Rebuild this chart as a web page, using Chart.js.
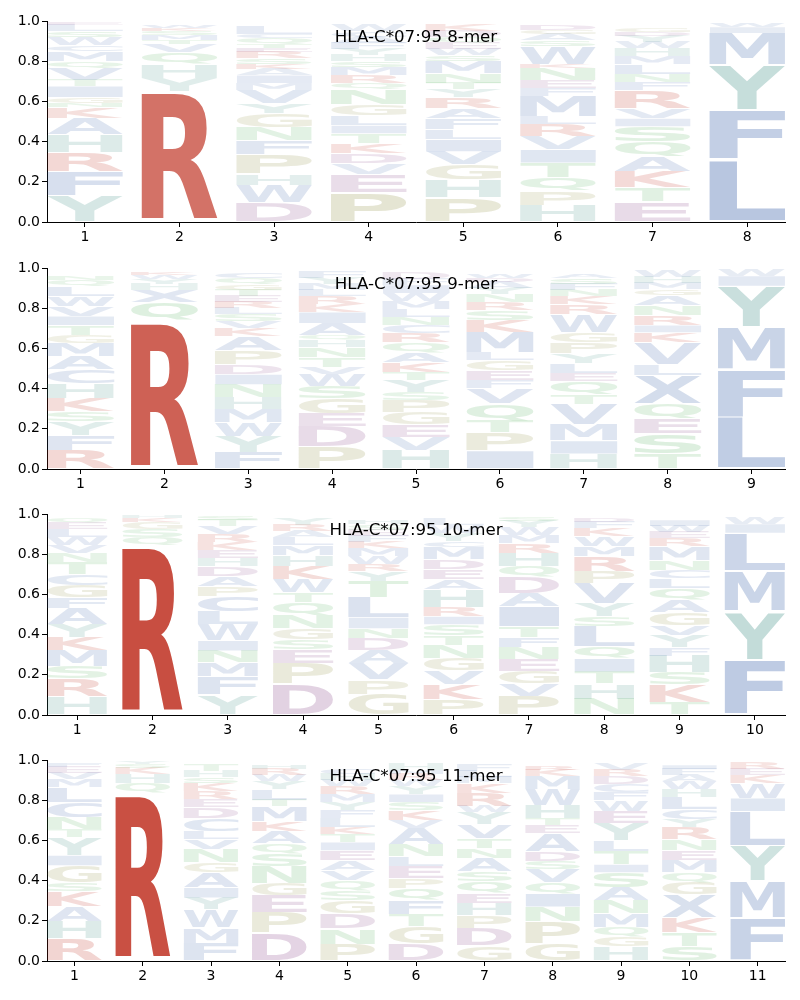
<!DOCTYPE html>
<html>
<head>
<meta charset="utf-8">
<script src="https://cdn.jsdelivr.net/npm/chart.js@4.4.0/dist/chart.umd.min.js"></script>
<style>
  body { margin: 0; background: #fff; }
  .panel { position: absolute; left: 0; width: 800px; height: 250px; }
</style>
</head>
<body>
<div class="panel" style="top:0px"><canvas id="c8" width="800" height="250"></canvas></div>
<div class="panel" style="top:247px"><canvas id="c9" width="800" height="250"></canvas></div>
<div class="panel" style="top:493px"><canvas id="c10" width="800" height="250"></canvas></div>
<div class="panel" style="top:739px"><canvas id="c11" width="800" height="250"></canvas></div>
<script>
// letter heights per position, bottom -> top
const mer8 = [
  [['Y',.13],['F',.12],['R',.095],['H',.09],['A',.08],['K',.055],['N',.02],['G',.03],['I',.055],['T',.03],['V',.06],['Q',.035],['M',.05],['C',.03],['W',.04],['S',.03],['L',.03],['E',.015]],
  [['R',.65],['Y',.065],['H',.07],['Q',.06],['V',.04],['T',.02],['M',.025],['S',.02],['K',.015],['W',.015]],
  [['D',.095],['W',.09],['H',.055],['P',.095],['F',.07],['N',.065],['G',.07],['Y',.05],['V',.065],['M',.035],['I',.04],['A',.03],['K',.025],['S',.03],['R',.03],['E',.02],['T',.02],['Q',.03],['C',.02],['L',.04]],
  [['P',.145],['E',.09],['V',.055],['D',.05],['K',.05],['T',.05],['I',.04],['L',.05],['G',.055],['N',.075],['Q',.03],['R',.04],['M',.04],['S',.03],['H',.03],['Y',.03],['F',.03],['A',.03],['C',.03],['W',.03]],
  [['P',.12],['H',.09],['G',.075],['V',.065],['I',.06],['L',.05],['F',.055],['A',.05],['R',.055],['Y',.04],['T',.03],['N',.05],['M',.06],['S',.03],['W',.03],['E',.03],['Q',.03],['D',.03],['K',.03]],
  [['H',.085],['P',.07],['Q',.065],['T',.075],['I',.065],['V',.065],['R',.06],['L',.04],['M',.1],['F',.04],['E',.04],['N',.06],['K',.02],['W',.09],['S',.03],['A',.03],['G',.02],['D',.025]],
  [['E',.1],['T',.07],['K',.08],['A',.075],['Q',.075],['S',.075],['I',.04],['V',.05],['R',.09],['F',.04],['N',.04],['L',.05],['M',.04],['H',.04],['W',.03],['Y',.03],['D',.02],['G',.02]],
  [['L',.31],['F',.245],['Y',.225],['M',.16],['I',.03],['W',.02]]
];
const mer9 = [
  [['R',.095],['F',.075],['Y',.065],['S',.05],['K',.065],['H',.075],['C',.07],['A',.065],['M',.065],['G',.04],['T',.05],['I',.045],['V',.05],['W',.05],['L',.05],['Q',.03],['N',.02]],
  [['R',.74],['Q',.09],['X',.06],['H',.03],['Y',.025],['W',.02],['K',.015]],
  [['F',.085],['Y',.08],['W',.065],['M',.065],['H',.06],['N',.065],['I',.05],['D',.05],['P',.07],['A',.07],['K',.04],['V',.035],['S',.035],['L',.03],['R',.03],['E',.03],['T',.03],['G',.03],['Q',.03],['C',.03]],
  [['P',.11],['D',.1],['E',.065],['G',.075],['S',.06],['W',.06],['V',.035],['T',.05],['N',.05],['H',.035],['Q',.025],['A',.06],['I',.055],['K',.04],['R',.04],['L',.03],['M',.03],['Y',.03],['F',.03]],
  [['H',.095],['V',.065],['E',.06],['G',.06],['P',.06],['S',.04],['Y',.06],['T',.04],['K',.05],['A',.05],['Q',.05],['R',.045],['C',.04],['N',.04],['L',.04],['M',.04],['W',.04],['I',.04],['F',.03],['D',.03]],
  [['I',.09],['P',.09],['T',.06],['Q',.085],['V',.075],['F',.04],['E',.05],['G',.05],['L',.04],['M',.1],['K',.06],['S',.05],['R',.04],['N',.04],['Y',.03],['A',.03],['D',.02],['W',.02]],
  [['H',.075],['I',.065],['M',.08],['V',.1],['T',.05],['Q',.065],['E',.04],['L',.05],['Y',.05],['P',.055],['G',.05],['W',.09],['R',.05],['K',.04],['N',.03],['F',.03],['S',.03],['A',.02]],
  [['T',.075],['S',.1],['E',.075],['Q',.075],['X',.14],['L',.055],['V',.11],['K',.05],['I',.035],['R',.05],['N',.05],['A',.05],['G',.03],['M',.03],['H',.03],['W',.03]],
  [['L',.26],['F',.235],['M',.21],['Y',.205],['I',.05],['W',.03]]
];
const mer10 = [
  [['H',.09],['R',.09],['S',.06],['M',.08],['K',.065],['Y',.065],['A',.08],['F',.055],['G',.06],['C',.055],['T',.06],['N',.045],['V',.04],['W',.04],['L',.04],['E',.03],['Q',.02]],
  [['R',.84],['Q',.045],['S',.04],['G',.035],['K',.02],['H',.01]],
  [['Y',.1],['F',.09],['M',.07],['N',.06],['I',.05],['W',.08],['L',.065],['C',.075],['P',.05],['A',.05],['D',.05],['H',.04],['E',.04],['K',.04],['R',.04],['V',.04],['T',.03],['S',.02]],
  [['D',.155],['P',.1],['E',.07],['S',.05],['G',.055],['N',.065],['Q',.065],['T',.05],['W',.065],['K',.065],['H',.055],['M',.05],['L',.04],['A',.03],['R',.03],['Y',.03]],
  [['G',.105],['P',.07],['V',.08],['A',.065],['D',.06],['N',.05],['I',.055],['L',.1],['T',.08],['Y',.05],['R',.035],['W',.04],['M',.04],['K',.03],['F',.03],['E',.03],['S',.03],['H',.02]],
  [['P',.08],['K',.075],['V',.065],['G',.06],['N',.065],['T',.05],['S',.055],['I',.04],['R',.045],['H',.09],['A',.05],['E',.05],['D',.05],['M',.06],['C',.03],['Y',.04],['W',.04],['L',.03]],
  [['P',.095],['V',.06],['G',.06],['E',.06],['N',.06],['F',.05],['T',.055],['I',.1],['A',.065],['D',.08],['Q',.055],['H',.065],['R',.05],['M',.04],['W',.04],['Y',.03],['S',.02]],
  [['N',.08],['H',.075],['T',.06],['I',.065],['Q',.06],['L',.1],['S',.05],['Y',.065],['V',.1],['P',.06],['R',.075],['M',.05],['W',.05],['K',.04],['F',.03],['D',.02]],
  [['T',.065],['K',.085],['S',.06],['H',.085],['F',.04],['Y',.06],['V',.05],['G',.065],['A',.06],['Q',.06],['L',.05],['C',.04],['N',.05],['M',.07],['R',.04],['E',.03],['W',.03],['I',.03]],
  [['F',.275],['Y',.24],['M',.2],['L',.19],['I',.045],['W',.03]]
];
const mer11 = [
  [['R',.11],['H',.085],['A',.075],['K',.075],['S',.045],['G',.085],['I',.05],['Y',.09],['T',.04],['N',.06],['C',.075],['L',.075],['M',.04],['V',.03],['E',.03],['F',.02]],
  [['R',.835],['Q',.05],['H',.045],['K',.03],['S',.02],['Y',.01]],
  [['F',.09],['M',.075],['W',.09],['Y',.06],['I',.05],['A',.075],['G',.05],['N',.065],['V',.05],['L',.04],['C',.065],['D',.055],['E',.04],['R',.04],['K',.04],['S',.03],['H',.03],['T',.03]],
  [['D',.14],['P',.1],['E',.085],['G',.06],['N',.085],['S',.065],['Q',.05],['A',.06],['K',.05],['M',.075],['T',.03],['L',.055],['Y',.04],['W',.03],['R',.03],['H',.02]],
  [['P',.085],['N',.075],['D',.075],['G',.065],['S',.05],['Q',.05],['V',.05],['A',.05],['E',.05],['I',.04],['T',.04],['K',.035],['L',.045],['F',.04],['Y',.04],['M',.04],['R',.04],['W',.03],['H',.03],['C',.03]],
  [['D',.085],['G',.085],['T',.06],['F',.07],['Q',.06],['P',.05],['E',.06],['L',.05],['N',.06],['A',.08],['V',.04],['K',.05],['S',.04],['I',.04],['Y',.04],['W',.03],['R',.03],['M',.02],['H',.03]],
  [['G',.075],['D',.09],['P',.06],['H',.06],['E',.05],['Q',.06],['S',.05],['A',.065],['N',.05],['T',.05],['V',.07],['Y',.06],['W',.03],['R',.065],['K',.05],['M',.03],['L',.03],['F',.03]],
  [['G',.085],['P',.11],['N',.075],['I',.065],['Q',.055],['V',.065],['S',.04],['D',.05],['A',.09],['E',.04],['T',.035],['H',.065],['W',.08],['M',.065],['K',.03],['R',.02]],
  [['H',.07],['G',.05],['Q',.05],['M',.065],['N',.065],['A',.065],['S',.075],['I',.04],['T',.065],['L',.055],['Y',.085],['E',.06],['W',.055],['F',.04],['C',.04],['D',.04],['R',.03],['V',.03]],
  [['S',.075],['T',.065],['K',.075],['X',.115],['G',.06],['Q',.05],['M',.06],['E',.05],['N',.055],['R',.06],['Y',.04],['C',.05],['L',.06],['H',.04],['W',.04],['A',.03],['F',.03],['I',.02]],
  [['F',.215],['M',.185],['Y',.175],['L',.17],['I',.065],['W',.075],['K',.04],['E',.03],['R',.03]]
];
const titles = ['HLA-C*07:95 8-mer', 'HLA-C*07:95 9-mer', 'HLA-C*07:95 10-mer', 'HLA-C*07:95 11-mer'];
const yTicks = [0, 0.2, 0.4, 0.6, 0.8, 1.0];

const groupColor = {
  red: [188, 38, 22],
  blue: [60, 100, 170],
  teal: [60, 140, 130],
  purple: [130, 60, 130],
  olive: [140, 140, 60],
  green: [70, 170, 80]
};
const letterGroup = {
  R: 'red', K: 'red',
  A: 'blue', V: 'blue', L: 'blue', I: 'blue', M: 'blue', F: 'blue', W: 'blue', C: 'blue', X: 'blue',
  Y: 'teal', H: 'teal',
  D: 'purple', E: 'purple',
  P: 'olive', G: 'olive',
  N: 'green', Q: 'green', S: 'green', T: 'green'
};

function letterColor(ch, p) {
  const c = groupColor[letterGroup[ch]];
  const a = Math.min(1, 0.1 + 0.85 * p);
  return `rgba(${c[0]},${c[1]},${c[2]},${a})`;
}

function drawLetter(ctx, ch, x0, y0, w, h, color) {
  if (w <= 0 || h <= 0) return;
  ctx.save();
  ctx.font = 'bold 200px "DejaVu Sans"';
  const m = ctx.measureText(ch);
  const gw = m.actualBoundingBoxLeft + m.actualBoundingBoxRight;
  const gh = m.actualBoundingBoxAscent + m.actualBoundingBoxDescent;
  const pad = h * 0.025;
  ctx.translate(x0, y0 + pad);
  ctx.scale(w / gw, (h - 2 * pad) / gh);
  ctx.fillStyle = color;
  ctx.textBaseline = 'alphabetic';
  ctx.textAlign = 'left';
  ctx.fillText(ch, m.actualBoundingBoxLeft, m.actualBoundingBoxAscent);
  ctx.restore();
}

const logoPlugin = {
  id: 'logo',
  afterDatasetsDraw(chart, args, opts) {
    const ctx = chart.ctx;
    const cols = opts.columns;
    chart.data.datasets.forEach((ds, k) => {
      const meta = chart.getDatasetMeta(k);
      meta.data.forEach((bar, i) => {
        const entry = cols[i][k];
        if (!entry) return;
        const { x, y, base, width } = bar.getProps(['x', 'y', 'base', 'width'], true);
        drawLetter(ctx, entry[0], x - width / 2, Math.min(y, base), width, Math.abs(base - y), letterColor(entry[0], entry[1]));
      });
    });
    const area = chart.chartArea;
    ctx.save();
    ctx.font = '16.67px "DejaVu Sans"';
    ctx.fillStyle = '#000';
    ctx.textAlign = 'center';
    ctx.textBaseline = 'alphabetic';
    ctx.fillText(opts.title, (area.left + area.right) / 2, area.top + 21);
    ctx.restore();
  }
};

function makeLogo(id, cols, title) {
  const n = cols.length;
  const positions = cols.map((c, i) => i + 1);
  const depth = Math.max(...cols.map(c => c.length));
  const datasets = [];
  for (let k = 0; k < depth; k++) {
    datasets.push({
      data: cols.map((c, i) => ({ x: positions[i], y: c[k] ? c[k][1] : null })),
      backgroundColor: 'rgba(0,0,0,0)',
      borderWidth: 0,
      categoryPercentage: 1.0,
      barPercentage: 0.8
    });
  }
  const tickFont = { family: 'DejaVu Sans', size: 14 };
  new Chart(document.getElementById(id), {
    type: 'bar',
    data: { datasets },
    plugins: [logoPlugin],
    options: {
      responsive: false,
      animation: false,
      events: [],
      layout: { padding: { left: 0, right: 15, top: 21, bottom: 0 } },
      plugins: {
        legend: { display: false },
        tooltip: { enabled: false },
        logo: { columns: cols, title: title }
      },
      scales: {
        x: {
          type: 'linear',
          stacked: true,
          offset: false,
          min: 0.6,
          max: n + 0.4,
          afterBuildTicks: s => { s.ticks = positions.map(v => ({ value: v })); },
          afterFit: s => { s.height = 28; },
          ticks: { font: tickFont, color: '#000', padding: 2, maxRotation: 0, autoSkip: false },
          grid: { display: true, drawOnChartArea: false, drawTicks: true, tickLength: 5, color: '#000', offset: false },
          border: { display: true, color: '#000', width: 1 }
        },
        y: {
          stacked: true,
          min: 0,
          max: 1,
          afterBuildTicks: s => { s.ticks = yTicks.map(v => ({ value: v })); },
          afterFit: s => { s.width = 47; },
          ticks: { font: tickFont, color: '#000', padding: 2, callback: v => v.toFixed(1) },
          grid: { display: true, drawOnChartArea: false, drawTicks: true, tickLength: 5, color: '#000' },
          border: { display: true, color: '#000', width: 1 }
        }
      }
    }
  });
}

makeLogo('c8', mer8, titles[0]);
makeLogo('c9', mer9, titles[1]);
makeLogo('c10', mer10, titles[2]);
makeLogo('c11', mer11, titles[3]);
</script>
</body>
</html>
